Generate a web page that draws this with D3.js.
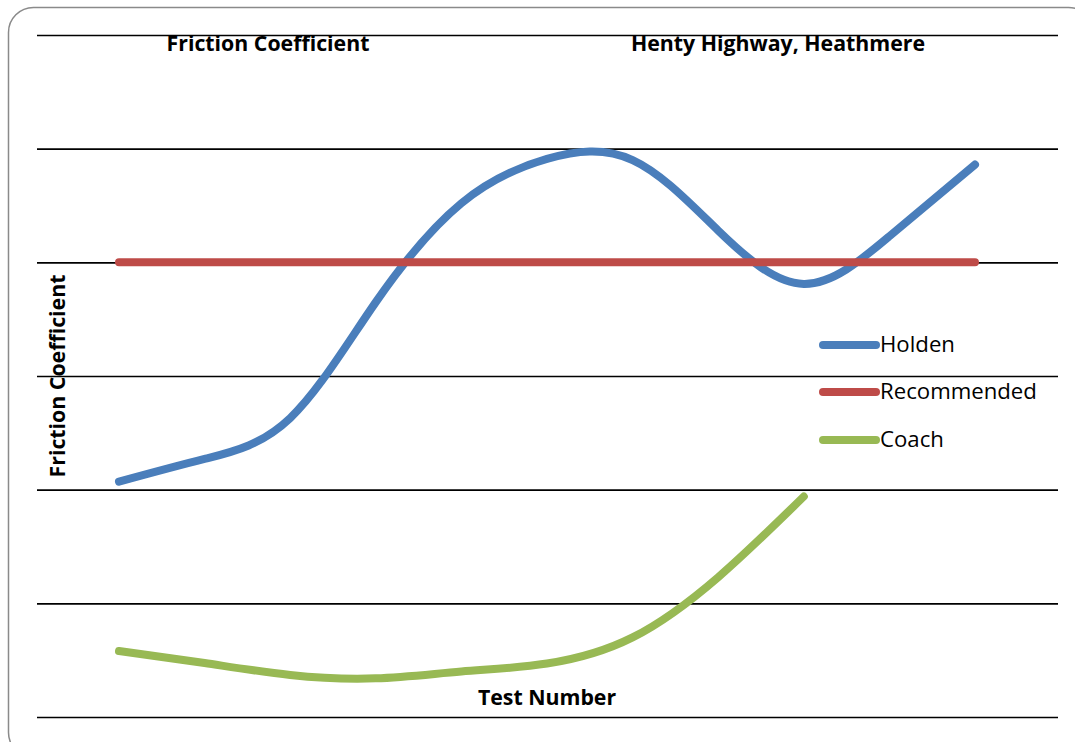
<!DOCTYPE html>
<html><head><meta charset="utf-8">
<script src="https://cdn.jsdelivr.net/npm/d3@7"></script>
<style>html,body{margin:0;padding:0;background:#fff;} svg{display:block;}</style>
</head><body>
<svg id="chart" width="1075" height="742"></svg>
<script>
const testNumbers = [1,2,3,4,5,6,7,8,9,10,11];
const holden = [0.207,0.227,0.263,0.365,0.452,0.491,0.490,0.428,0.381,0.423,0.486];
const recommended = [0.4,0.4,0.4,0.4,0.4,0.4,0.4,0.4,0.4,0.4,0.4];
const coach = [0.058,0.0475,0.037,0.034,0.040,0.047,0.070,0.123,0.194];
const yTicks = [0,0.1,0.2,0.3,0.4,0.5,0.6];
const seriesNames = ["Holden","Recommended","Coach"];
const seriesColors = ["#4a7ebb","#be4b48","#98b954"];

const svg = d3.select("#chart");
const font = "'Open Sans', 'Noto Sans', sans-serif";

svg.append("rect").attr("x",8.5).attr("y",7.5).attr("width",1085).attr("height",750)
  .attr("rx",25).attr("fill","#fff").attr("stroke","#8a8a8a").attr("stroke-width",1.5);

const x = d3.scalePoint().domain(testNumbers).range([119,975]);
const y = d3.scaleLinear().domain([0,0.6]).range([717,35]);

const grid = svg.append("g").attr("transform","translate(37,0)")
  .call(d3.axisLeft(y).tickValues(yTicks).tickSize(-1021).tickFormat(""));
grid.select(".domain").remove();
grid.selectAll(".tick line").attr("stroke","#000").attr("stroke-width",1.6);

const line = d3.line().x((d,i)=>x(testNumbers[i])).y(d=>y(d)).curve(d3.curveNatural);
[holden, recommended, coach].forEach((s,k)=>{
  svg.append("path").datum(s).attr("d",line).attr("fill","none")
    .attr("stroke",seriesColors[k]).attr("stroke-width",8).attr("stroke-linecap","round");
});

function fit(sel, target){
  const w = sel.node().getComputedTextLength();
  const fs = parseFloat(sel.attr("font-size"));
  sel.attr("font-size", fs*target/w);
}
const t1 = svg.append("text").attr("x",268).attr("y",51).attr("text-anchor","middle")
  .attr("font-family",font).attr("font-weight","bold").attr("font-size",20).text("Friction Coefficient");
fit(t1,203);
const bfs = t1.attr("font-size");
svg.append("text").attr("x",778).attr("y",51).attr("text-anchor","middle")
  .attr("font-family",font).attr("font-weight","bold").attr("font-size",bfs).text("Henty Highway, Heathmere");
svg.append("text").attr("x",547).attr("y",705).attr("text-anchor","middle")
  .attr("font-family",font).attr("font-weight","bold").attr("font-size",bfs).text("Test Number");
svg.append("text").attr("transform","translate(65,376) rotate(-90)").attr("text-anchor","middle")
  .attr("font-family",font).attr("font-weight","bold").attr("font-size",bfs).text("Friction Coefficient");

const legY = [345,392,440];
let lfs = 20;
seriesNames.forEach((n,k)=>{
  svg.append("line").attr("x1",823).attr("x2",876).attr("y1",legY[k]).attr("y2",legY[k])
    .attr("stroke",seriesColors[k]).attr("stroke-width",8).attr("stroke-linecap","round");
  const t = svg.append("text").attr("x",880).attr("y",legY[k]+7).attr("font-family",font)
    .attr("font-size",lfs).attr("fill","#000").text(n);
  if(n==="Recommended"){ fit(t,157); }
});
const rfs = svg.selectAll("text").filter(function(){return d3.select(this).text()==="Recommended";}).attr("font-size");
svg.selectAll("text").filter(function(){const s=d3.select(this).text();return s==="Holden"||s==="Coach";}).attr("font-size",rfs);
</script>
</body></html>
